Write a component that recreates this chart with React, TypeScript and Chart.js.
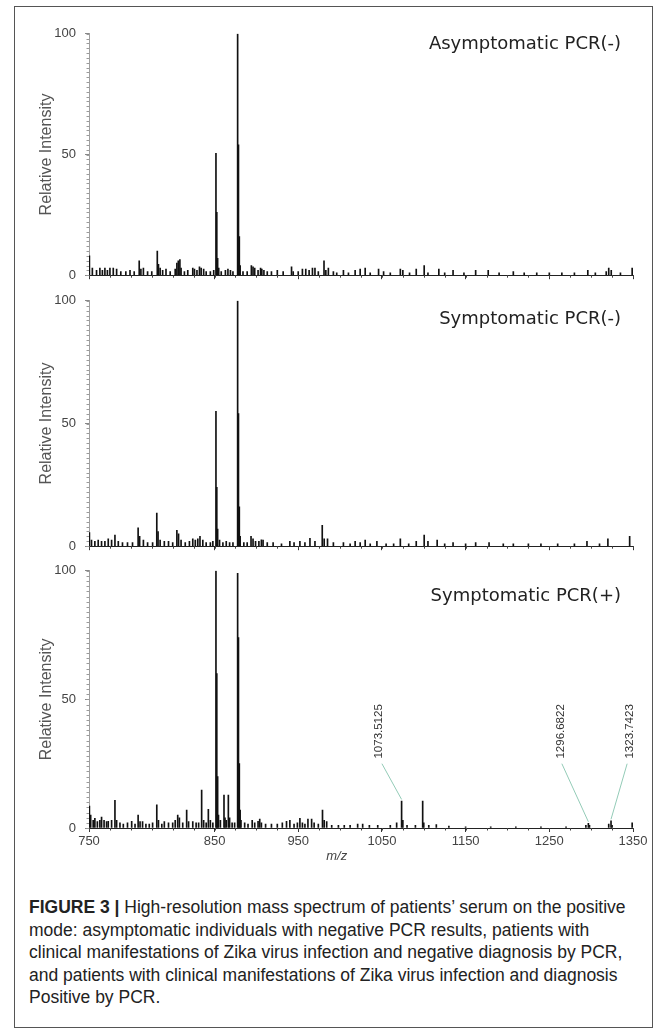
import React, { useEffect, useRef } from 'react';
import { Chart, registerables } from 'chart.js';

Chart.register(...registerables);

// ---------- axis definitions ----------
const X_MIN = 700;
const X_MAX = 1350;
const xTickValues = [700, 850, 950, 1050, 1150, 1250, 1350];
const xTickLabels = ['750', '850', '950', '1050', '1150', '1250', '1350'];
const xMinorStep = 25;
const yTickValues = [0, 50, 100];
const yTickLabels = ['0', '50', '100'];
const yMinorStep = 2;
const xTitleText = 'm/z';
const xTitleMz = 996;
const yTitleText = 'Relative Intensity';

const panelTitles = ['Asymptomatic PCR(-)', 'Symptomatic PCR(-)', 'Symptomatic PCR(+)'];
const panelTitleY = [95.5, 92.5, 90];

// ---------- spectra (m/z, relative intensity) ----------
const mzAsymNeg = [
  700.5, 704, 709, 713, 716, 719, 722, 725, 729, 733, 738, 744, 749, 754, 760, 762, 765, 770, 775,
  781.6, 783, 785, 788, 792, 797, 803, 805, 806.7, 808.6, 810, 814, 818, 824, 826, 829, 832, 834,
  837, 840, 845, 849, 851.7, 852.7, 853.7, 855, 858, 863, 866, 869, 872, 877.6, 878.6, 879.6, 880.6,
  884, 889, 894, 896, 898, 902, 905, 906.5, 909, 913, 918, 925, 932, 942, 944, 950, 955, 959, 963,
  967, 970, 974, 980.8, 983, 986, 992, 996, 1004, 1010, 1018, 1024, 1030, 1036, 1046, 1052, 1060,
  1072, 1075, 1083, 1091, 1100.5, 1105, 1118, 1125, 1135, 1148, 1162, 1177, 1190, 1207, 1220, 1235,
  1250, 1265, 1280, 1296, 1305, 1318, 1321, 1324, 1335, 1349,
];
const intAsymNeg = [
  8, 3, 2, 3, 2, 3, 2, 3, 3, 2.5, 1.5, 1.5, 2, 1.5, 6, 2.5, 3, 1.5, 1.5,
  10, 4.5, 3, 2, 2.5, 1.5, 2.5, 5, 6, 6.5, 3, 1.5, 2, 3, 2.5, 2, 3.5, 3,
  2.5, 1.5, 1.5, 2, 50.5, 26, 7, 3, 1.5, 2, 2.5, 2, 1.5, 100, 54, 16, 4,
  1.5, 1.5, 4, 3.5, 3, 2, 3, 2.5, 2, 1.5, 1.5, 2, 1.5, 3.5, 1.5, 1.5, 2.5, 2.5, 2,
  3, 3, 1.5, 6, 2, 3, 1.5, 1, 2, 1, 2, 2.5, 3, 1, 2.5, 1.5, 1,
  2.5, 2, 1, 2.5, 4, 1, 2.5, 1, 2, 1, 2, 2, 1, 1.5, 1, 1,
  1, 1, 1, 2, 1, 1.5, 3, 2, 1, 3,
];

const mzSympNeg = [
  700.5, 703, 707, 711, 715, 719, 723, 727, 731, 735, 740, 746, 752, 758.7, 760.5, 765, 770, 776,
  781, 782.5, 785, 790, 795, 800, 805, 807, 810, 815, 820, 824, 827, 830, 832.6, 836, 840, 845, 848,
  851.7, 852.7, 853.7, 856, 860, 864, 868, 872, 877.6, 878.6, 879.6, 880.6, 885, 889, 893.6, 896,
  899, 903, 906, 908, 913, 920, 930, 940, 945, 952, 958, 964, 970, 978.7, 981, 985, 992, 1004, 1012,
  1018, 1024, 1030, 1036, 1044, 1055, 1064, 1072, 1082, 1091, 1100.5, 1105, 1116, 1125, 1135, 1150,
  1162, 1178, 1195, 1207, 1225, 1240, 1260, 1280, 1295, 1310, 1320, 1346,
];
const intSympNeg = [
  5.5, 2.5, 2, 2.5, 2, 2, 3, 2.5, 4.5, 2, 1.5, 1.5, 1.5, 7.5, 4, 2.5, 1.5, 1.5,
  13.5, 6, 2.5, 2, 2, 1.5, 6.5, 5, 2.5, 1.5, 2, 3, 2.5, 3, 4, 2.5, 1.5, 1.5, 2,
  55, 24, 7, 2.5, 1.5, 2, 1.5, 1.5, 100, 54, 16, 4, 1.5, 1.5, 4, 3,
  2, 2, 2.6, 2.5, 1.5, 1.5, 1, 2, 1.5, 2, 1.5, 3.2, 2, 8.5, 3, 3, 1.5, 1.5, 1,
  2, 1.5, 2.5, 1, 2, 1, 1, 3, 1, 2, 4.5, 2, 2.5, 1, 1.5, 1,
  1.5, 1.5, 1, 1, 1, 1, 1, 1, 2, 1, 3, 4,
];

const mzSympPos = [
  700.5, 702, 705, 707, 710, 713, 715, 718, 721, 723, 727, 731, 733, 737, 741, 746, 751, 755, 758.7,
  761, 764, 768, 772, 776, 781, 783, 787, 790, 795, 800, 803, 806, 808, 812, 816.7, 819, 824, 828,
  831, 834.6, 837, 840, 842.6, 845, 848, 851.7, 852.7, 853.7, 854.7, 857, 861.3, 862.5, 864, 866.5,
  868, 871, 874, 877.6, 878.6, 879.6, 880.6, 881.6, 886, 890, 895, 898, 902, 904, 906, 911, 918, 925,
  931, 936, 940, 945, 949, 952, 955, 958, 961.6, 966, 969, 974, 979, 981, 984, 990, 998, 1005, 1012,
  1021, 1027, 1035, 1045, 1060, 1067.6, 1073.5125, 1075, 1080, 1090, 1098.7, 1100, 1106, 1115, 1130,
  1150, 1180, 1210, 1240, 1270, 1293.7, 1296.6822, 1298, 1321, 1323.7423, 1325, 1349,
];
const intSympPos = [
  8.5, 5, 3, 3.8, 2.5, 3, 4.2, 3, 2.5, 2.6, 3, 10.8, 3, 2, 1.5, 2, 2.6, 1.5, 5,
  2.5, 2.5, 1.5, 1.5, 2, 9, 3, 1.5, 2.5, 2, 2, 3, 5, 4, 2, 7, 2.5, 2.5, 2,
  2, 14.7, 3, 2, 7.3, 3, 2, 100, 60, 20, 5, 3, 12.8, 4, 3, 12.8,
  4, 2, 2, 99, 74, 25, 7, 3, 2, 1.5, 3, 2, 2.6, 3.5, 2, 1.5, 1.5, 1.5,
  2, 2.6, 3, 1.5, 2, 3.8, 2, 1.5, 3.5, 3.5, 2, 1.5, 7, 3, 2.5, 1, 1, 1, 1,
  1.5, 1.5, 1, 1, 1, 2, 10.5, 3, 1, 1, 10.5, 2, 1, 1.3, 0.7,
  0.5, 0.5, 0.5, 0.5, 0.5, 1, 1.8, 1, 1.5, 2.8, 1, 2,
];

const panelMz = [mzAsymNeg, mzSympNeg, mzSympPos];
const panelInt = [intAsymNeg, intSympNeg, intSympPos];

// ---------- peak annotations (bottom panel) ----------
const annMz = [1073.5125, 1296.6822, 1323.7423];
const annText = ['1073.5125', '1296.6822', '1323.7423'];
const annLabelMz = [1046.5, 1264, 1346.4];
const annLabelBaseY = 27;
const annLeaderTopMz = [1050, 1265, 1343];
const annLeaderTopY = 25;

// ---------- layout (pixels) ----------
const PANEL_TOPS = [31, 298, 568];
const PANEL_BOTTOMS = [287, 558, 828];
const X_AXIS_H = [5, 5, 44];
const CANVAS_LEFT = 20;
const CANVAS_WIDTH = 630;
const Y_AXIS_W = 69;
const PAD_RIGHT = 17;
const PAD_TOP = 14;
const SANS = '"Liberation Sans", Arial, sans-serif';

function decorPlugin(panel: number) {
  return {
    id: 'decor' + panel,
    afterDraw(chart: any) {
      const ctx = chart.ctx;
      const xs = chart.scales.x;
      const ys = chart.scales.y;
      ctx.save();
      // minor ticks
      ctx.lineWidth = 1;
      ctx.strokeStyle = '#9a9a9a';
      ctx.beginPath();
      for (let v = 0; v <= 100; v += yMinorStep) {
        const py = Math.round(ys.getPixelForValue(v)) + 0.5;
        ctx.moveTo(xs.left - 2.5, py);
        ctx.lineTo(xs.left, py);
      }
      ctx.stroke();
      ctx.strokeStyle = '#444';
      ctx.beginPath();
      for (let v = X_MIN; v <= X_MAX; v += xMinorStep) {
        const px = Math.round(xs.getPixelForValue(v)) + 0.5;
        ctx.moveTo(px, ys.bottom);
        ctx.lineTo(px, ys.bottom + 2.5);
      }
      ctx.stroke();

      // panel title
      ctx.font = '18px "DejaVu Sans"';
      ctx.fillStyle = '#222';
      ctx.textAlign = 'right';
      ctx.textBaseline = 'middle';
      ctx.fillText(panelTitles[panel], xs.right - 12, ys.getPixelForValue(panelTitleY[panel]));

      if (panel === 2) {
        const mz = panelMz[panel];
        const it = panelInt[panel];
        annMz.forEach((m, k) => {
          const idx = mz.indexOf(m);
          const peak = idx >= 0 ? it[idx] : 0;
          ctx.strokeStyle = '#93cbb7';
          ctx.lineWidth = 1;
          ctx.beginPath();
          ctx.moveTo(xs.getPixelForValue(annLeaderTopMz[k]), ys.getPixelForValue(annLeaderTopY));
          ctx.lineTo(xs.getPixelForValue(m), ys.getPixelForValue(peak + 0.6));
          ctx.stroke();
          ctx.save();
          ctx.translate(xs.getPixelForValue(annLabelMz[k]), ys.getPixelForValue(annLabelBaseY));
          ctx.rotate(-Math.PI / 2);
          ctx.font = '11.5px ' + SANS;
          ctx.fillStyle = '#333';
          ctx.textAlign = 'left';
          ctx.textBaseline = 'middle';
          ctx.fillText(annText[k], 0, 0);
          ctx.restore();
        });
        ctx.font = 'italic 13px ' + SANS;
        ctx.fillStyle = '#444';
        ctx.textAlign = 'center';
        ctx.textBaseline = 'middle';
        ctx.fillText(xTitleText, xs.getPixelForValue(xTitleMz), ys.bottom + 28);
      }
      ctx.restore();
    },
  };
}

function buildConfig(i: number): any {
  const mz = panelMz[i];
  const it = panelInt[i];
  const isBottom = i === 2;
  return {
    type: 'bar',
    data: {
      datasets: [
        {
          data: mz.map((m, k) => ({ x: m, y: it[k] })),
          backgroundColor: '#111',
          borderWidth: 0,
          barThickness: 1,
          grouped: false,
        },
      ],
    },
    options: {
      animation: false,
      responsive: false,
      devicePixelRatio: 1,
      events: [],
      layout: { padding: { top: PAD_TOP, right: PAD_RIGHT, left: 0, bottom: 0 } },
      plugins: { legend: { display: false }, tooltip: { enabled: false }, title: { display: false } },
      scales: {
        x: {
          type: 'linear',
          min: X_MIN,
          max: X_MAX,
          offset: false,
          afterBuildTicks: (s: any) => {
            s.ticks = xTickValues.map((v) => ({ value: v }));
          },
          afterFit: (s: any) => {
            s.height = X_AXIS_H[i];
          },
          grid: { display: true, offset: false, drawOnChartArea: false, drawTicks: true, tickLength: 4, tickColor: '#333' },
          border: { display: true, color: '#222', width: 1 },
          ticks: {
            display: isBottom,
            autoSkip: false,
            maxRotation: 0,
            minRotation: 0,
            padding: 2,
            color: '#444',
            font: { family: SANS, size: 13 },
            callback: (v: number) => {
              const k = xTickValues.indexOf(v);
              return k >= 0 ? xTickLabels[k] : '';
            },
          },
        },
        y: {
          type: 'linear',
          min: 0,
          max: 100,
          afterBuildTicks: (s: any) => {
            s.ticks = yTickValues.map((v) => ({ value: v }));
          },
          afterFit: (s: any) => {
            s.width = Y_AXIS_W;
          },
          grid: { display: true, drawOnChartArea: false, drawTicks: true, tickLength: 4, tickColor: '#888' },
          border: { display: true, color: '#a0a0a0', width: 1 },
          ticks: {
            autoSkip: false,
            padding: 9,
            color: '#444',
            font: { family: SANS, size: 13 },
            callback: (v: number) => {
              const k = yTickValues.indexOf(v);
              return k >= 0 ? yTickLabels[k] : '';
            },
          },
          title: {
            display: true,
            text: yTitleText,
            color: '#555',
            font: { family: SANS, size: 16 },
            padding: { top: 17, bottom: 0 },
          },
        },
      },
    },
    plugins: [decorPlugin(i)],
  };
}

function Panel({ index }: { index: number }) {
  const ref = useRef<HTMLCanvasElement>(null);
  const top = PANEL_TOPS[index] - PAD_TOP;
  const h = PANEL_BOTTOMS[index] - PANEL_TOPS[index] + PAD_TOP + X_AXIS_H[index];
  useEffect(() => {
    const chart = new Chart(ref.current as HTMLCanvasElement, buildConfig(index));
    return () => chart.destroy();
  }, [index]);
  return (
    <canvas
      ref={ref}
      width={CANVAS_WIDTH}
      height={h}
      style={{ position: 'absolute', left: CANVAS_LEFT, top, width: CANVAS_WIDTH, height: h }}
    />
  );
}

const captionLines = [
  'High-resolution mass spectrum of patients’ serum on the positive',
  'mode: asymptomatic individuals with negative PCR results, patients with',
  'clinical manifestations of Zika virus infection and negative diagnosis by PCR,',
  'and patients with clinical manifestations of Zika virus infection and diagnosis',
  'Positive by PCR.',
];

export default function App() {
  return (
    <div style={{ position: 'absolute', left: 0, top: 0, width: 667, height: 1031, background: '#fff', overflow: 'hidden' }}>
      <div
        style={{
          position: 'absolute',
          left: 14,
          top: 6,
          width: 639,
          height: 1022,
          border: '1px solid #555',
          boxSizing: 'border-box',
        }}
      />
      {[0, 1, 2].map((i) => (
        <Panel key={i} index={i} />
      ))}
      <div
        style={{
          position: 'absolute',
          left: 29,
          top: 896,
          fontFamily: SANS,
          fontSize: 17.5,
          lineHeight: '22.6px',
          color: '#222',
          whiteSpace: 'nowrap',
        }}
      >
        {captionLines.map((t, k) => (
          <div key={k}>
            {k === 0 ? <b>FIGURE 3 | </b> : null}
            {t}
          </div>
        ))}
      </div>
    </div>
  );
}
